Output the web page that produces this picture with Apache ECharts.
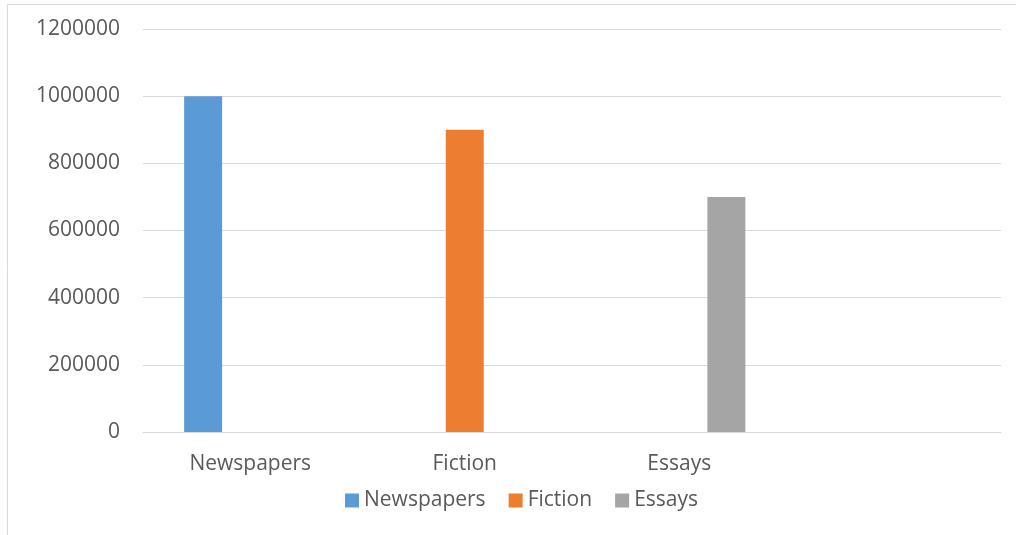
<!DOCTYPE html>
<html>
<head>
<meta charset="utf-8">
<script src="https://cdn.jsdelivr.net/npm/echarts@6/dist/echarts.min.js"></script>
<style>
html,body{margin:0;padding:0;background:#fff;}
#c{width:1016px;height:535px;}
</style>
</head>
<body>
<div id="c"></div>
<script>
const categories = ['Newspapers', 'Fiction', 'Essays', ''];
const seriesNames = ['Newspapers', 'Fiction', 'Essays'];
const newspapersValues = [1000000, null, null, null];
const fictionValues = [null, 900000, null, null];
const essaysValues = [null, null, 700000, null];
const yTicks = [0, 200000, 400000, 600000, 800000, 1000000, 1200000];

const colors = ['#5B9BD5', '#ED7D31', '#A5A5A5'];
const values = [newspapersValues, fictionValues, essaysValues];
const font = 'Open Sans';

const chart = echarts.init(document.getElementById('c'), null, {renderer: 'canvas'});
chart.setOption({
  animation: false,
  color: colors,
  graphic: [{
    type: 'rect', silent: true,
    shape: {x: 7.5, y: 4.5, width: 1200, height: 700},
    style: {fill: 'none', stroke: '#d9d9d9', lineWidth: 1}
  }],
  grid: {left: 143, right: 15, top: 29, bottom: 103, containLabel: false},
  legend: {
    top: 485, left: 340,
    itemWidth: 14, itemHeight: 14, itemGap: 23,
    icon: 'rect',
    textStyle: {fontFamily: font, fontSize: 21, color: '#595959'},
    data: seriesNames
  },
  xAxis: {
    type: 'category', data: categories,
    axisLine: {lineStyle: {color: '#d9d9d9', width: 1}},
    axisTick: {show: false},
    axisLabel: {fontFamily: font, fontSize: 21, color: '#595959', margin: 22}
  },
  yAxis: {
    type: 'value', min: yTicks[0], max: yTicks[yTicks.length - 1], interval: yTicks[1] - yTicks[0],
    axisLine: {show: false}, axisTick: {show: false},
    splitLine: {lineStyle: {color: '#d9d9d9', width: 1}},
    axisLabel: {fontFamily: font, fontSize: 21, color: '#595959', margin: 23, formatter: v => String(v)}
  },
  series: seriesNames.map((n, i) => ({
    name: n, type: 'bar', data: values[i],
    barWidth: 38, barGap: '24%',
    itemStyle: {color: colors[i]}
  }))
});
</script>
</body>
</html>
